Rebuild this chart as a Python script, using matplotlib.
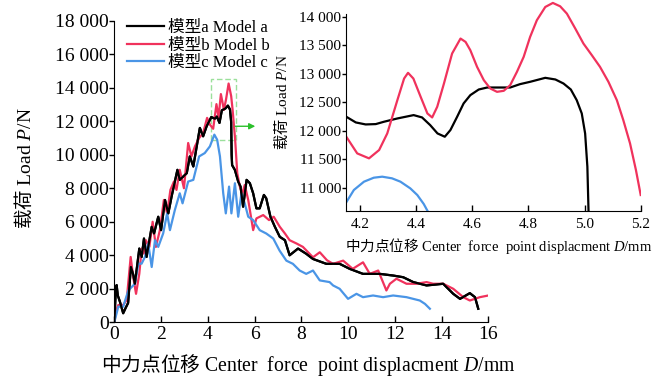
import matplotlib
matplotlib.use('Agg')
import matplotlib.pyplot as plt
from matplotlib.patches import Rectangle
from matplotlib.ticker import FuncFormatter

plt.rcParams['font.family'] = ['Liberation Serif', 'Noto Sans CJK SC']
plt.rcParams['mathtext.fontset'] = 'custom'
plt.rcParams['mathtext.rm'] = 'Noto Sans CJK SC'
plt.rcParams['mathtext.it'] = 'Liberation Serif:italic'
plt.rcParams['mathtext.bf'] = 'Liberation Serif:bold'

labels = ['模型a Model a', '模型b Model b', '模型c Model c']
colors = ['#000000', '#f0325c', '#4a95e6']

# main curves: displacement (mm) and load (N)
disp_a = [0, 0.05, 0.1, 0.15, 0.24, 0.38, 0.5, 0.59, 0.71, 0.8, 0.88, 1.07, 1.17, 1.27, 1.38,
          1.6, 1.7, 1.88, 2.0, 2.17, 2.31, 2.45, 2.7, 2.8, 3.1, 3.23, 3.38, 3.66, 3.8, 3.95,
          4.15, 4.3, 4.39, 4.5, 4.6, 4.75, 4.86, 4.95, 5.0, 5.02, 5.04, 5.16, 5.3, 5.4, 5.51,
          5.66, 5.8, 5.94, 6.08, 6.22, 6.4, 6.5, 6.68, 6.87, 7.08, 7.3, 7.5, 7.86, 8.2, 8.5,
          9.07, 9.64, 10.07, 10.64, 11.36, 11.93, 12.36, 12.79, 13.36, 14.07, 14.5, 14.79,
          15.21, 15.43, 15.57]
load_a = [0, 1500, 2220, 1600, 1230, 540, 900, 1150, 3300, 2900, 2300, 4400, 3900, 5000, 3900,
          5700, 5300, 6300, 5500, 7300, 6500, 7500, 9100, 8500, 8900, 9900, 9300, 11600, 11100, 11700,
          12250, 12150, 12280, 11900, 12650, 12760, 12930, 12700, 11950, 10000, 9380, 9090, 8400, 8100, 6900,
          8500, 8300, 7700, 6800, 6800, 7600, 7400, 6300, 5700, 5100, 4900, 4000, 4400, 4100, 3780,
          3490, 3490, 3190, 2890, 2890, 2790, 2690, 2400, 2200, 2300, 1700, 1400,
          1740, 1500, 810]

disp_b = [0, 0.08, 0.17, 0.38, 0.53, 0.7, 0.81, 0.93, 1.07, 1.17, 1.27, 1.35, 1.5, 1.64, 1.78,
          1.95, 2.12, 2.26, 2.4, 2.55, 2.66, 2.8, 2.98, 3.16, 3.3, 3.45, 3.63, 3.8, 3.97, 4.09,
          4.23, 4.37, 4.46, 4.56, 4.69, 4.78, 4.89, 5.0, 5.06, 5.17, 5.26, 5.37, 5.48, 5.58, 5.73,
          5.94, 6.08, 6.37, 6.62, 6.82, 7.08, 7.3, 7.5, 7.8, 8.07, 8.5, 8.79, 9.1, 9.36, 9.79,
          10.2, 10.64, 10.93, 11.29, 11.64, 11.79, 12.07, 12.5, 12.93, 13.36, 13.64, 14.07, 14.5,
          14.93, 15.21, 15.64, 16.0]
load_b = [0, 700, 1030, 1030, 1330, 3900, 2700, 1700, 2900, 4400, 4100, 4900, 4500, 6000, 4500,
          5500, 7300, 6500, 7900, 8400, 7900, 9100, 8000, 10700, 9900, 10500, 11000, 11300, 12200, 11800,
          11550, 13020, 12230, 13620, 12680, 13300, 14250, 13500, 12700, 10900, 8900, 8100, 7700, 8200, 7300,
          5500, 6200, 6400, 6100, 6300, 5700, 5300, 4900, 4700, 4500, 3880, 4180, 3700, 3490, 3680,
          3190, 3580, 2890, 3090, 1900, 2300, 2600, 2300, 2300, 2400, 2300, 2300, 2000,
          1500, 1300, 1500, 1600]

disp_c = [0, 0.17, 0.38, 0.6, 0.74, 0.88, 1.03, 1.17, 1.31, 1.45, 1.6, 1.74, 1.88, 2.09, 2.26,
          2.38, 2.59, 2.8, 2.92, 3.16, 3.38, 3.63, 3.87, 4.09, 4.28, 4.4, 4.52, 4.66, 4.77, 4.91,
          5.01, 5.16, 5.3, 5.44, 5.58, 5.73, 5.94, 6.22, 6.5, 6.8, 7.07, 7.36, 7.64, 7.93, 8.21,
          8.5, 8.79, 9.21, 9.36, 9.64, 10.0, 10.36, 10.64, 11.07, 11.5, 11.93, 12.5, 13.07, 13.29, 13.5]
load_c = [0, 930, 930, 1900, 2100, 2300, 3500, 3500, 3900, 4700, 3300, 4900, 4500, 5300, 6500,
          5500, 6700, 7700, 7100, 8400, 8500, 9900, 10100, 10500, 11200, 10900, 9900, 7700, 6500, 8100,
          6500, 8300, 6300, 7700, 7100, 6300, 6100, 5500, 5300, 5000, 4280, 3680, 3490, 3090, 2890,
          3090, 2500, 2400, 2200, 2000, 1400, 1700, 1500, 1600, 1500, 1600, 1500, 1300, 1100, 810]

# zoomed-in curves (inset)
ins_disp_a = [4.151, 4.185, 4.220, 4.256, 4.285, 4.333, 4.391, 4.421, 4.450, 4.476, 4.502, 4.522,
              4.546, 4.569, 4.593, 4.623, 4.653, 4.694, 4.735, 4.770, 4.806, 4.860, 4.896, 4.925,
              4.951, 4.972, 4.990, 5.002, 5.010, 5.014, 5.016]
ins_load_a = [12246, 12146, 12111, 12117, 12158, 12216, 12275, 12234, 12099, 11953, 11895, 12012,
              12246, 12480, 12626, 12725, 12760, 12760, 12760, 12819, 12860, 12930, 12901, 12830,
              12725, 12538, 12304, 11953, 11368, 10608, 10300]
ins_disp_b = [4.151, 4.190, 4.232, 4.268, 4.297, 4.333, 4.357, 4.371, 4.390, 4.416, 4.440, 4.457,
              4.475, 4.499, 4.528, 4.558, 4.576, 4.593, 4.617, 4.641, 4.664, 4.688, 4.712, 4.735,
              4.759, 4.783, 4.806, 4.830, 4.860, 4.887, 4.913, 4.937, 4.967, 4.996, 5.026, 5.055,
              5.085, 5.115, 5.138, 5.162, 5.183, 5.200]
ins_load_b = [11895, 11602, 11515, 11661, 11953, 12538, 12918, 13018, 12918, 12596, 12304, 12234,
              12421, 12830, 13357, 13620, 13561, 13415, 13123, 12889, 12743, 12684, 12702, 12801,
              13035, 13298, 13649, 13942, 14175, 14246, 14187, 14058, 13795, 13532, 13327, 13123,
              12860, 12538, 12187, 11778, 11310, 10871]
ins_disp_c = [4.151, 4.178, 4.214, 4.249, 4.279, 4.314, 4.344, 4.379, 4.404, 4.427, 4.445, 4.46]
ins_load_c = [10743, 10959, 11105, 11175, 11193, 11164, 11105, 10988, 10871, 10713, 10550, 10400]

xlabel = r'$\mathrm{中力点位移}$ Center  force  point displacment $D$/mm'
ylabel = r'$\mathrm{载荷}$ Load $P$/N'


def thousands(v, pos):
    return '{:,.0f}'.format(v).replace(',', ' ')


fig = plt.figure(figsize=(6.66, 3.79), dpi=100)

# ---- main axes ----
ax = fig.add_axes([114.3 / 666, 1 - 322.3 / 379, 374 / 666, 301.6 / 379])
for d, p, c, lab in zip([disp_a, disp_b, disp_c], [load_a, load_b, load_c], colors, labels):
    ax.plot(d, p, color=c, lw=1.6, label=lab)
ax.plot(disp_a, load_a, color=colors[0], lw=1.6)  # black drawn on top like the original

ax.set_xlim(0, 16)
ax.set_ylim(0, 18000)
ax.set_xticks(range(0, 17, 2))
ax.set_yticks(range(0, 18001, 2000))
ax.yaxis.set_major_formatter(FuncFormatter(thousands))
ax.spines['top'].set_visible(False)
ax.spines['right'].set_visible(False)
ax.tick_params(axis='x', direction='in', length=4, width=1, labelsize=14, pad=3)
ax.tick_params(axis='y', direction='out', length=3.5, width=1, labelsize=14, pad=0.5)

ax.set_xlabel(xlabel, fontsize=14.2)
ax.xaxis.set_label_coords(0.519, -0.1)
ax.set_ylabel(ylabel, fontsize=14)
ax.yaxis.set_label_coords(-0.212, 0.51)

# dashed box marking the zoomed region and arrow to the inset
ax.add_patch(Rectangle((4.15, 10900), 1.05, 3600, fill=False, ls=(0, (4, 2)),
                       ec='#9be09b', lw=1.0))
ax.annotate('', xy=(6.15, 11700), xytext=(5.05, 11700),
            arrowprops=dict(arrowstyle='-|>', color='#2cc02c', lw=1.0, mutation_scale=9))

ax.legend(loc='upper left', bbox_to_anchor=(127 / 666, 1 - 20 / 379),
          bbox_transform=fig.transFigure, frameon=False, fontsize=12,
          handlelength=2.2, handletextpad=0.25, labelspacing=0.1, borderpad=0,
          borderaxespad=0)

# ---- inset axes ----
ins = fig.add_axes([346 / 666, 1 - 211 / 379, 294.7 / 666, 210 / 379])
ins.plot(ins_disp_a, ins_load_a, color=colors[0], lw=1.6)
ins.plot(ins_disp_b, ins_load_b, color=colors[1], lw=1.6)
ins.plot(ins_disp_c, ins_load_c, color=colors[2], lw=1.6)
ins.set_xlim(4.15, 5.2)
ins.set_ylim(10590, 14280)
ins.set_xticks([4.2, 4.4, 4.6, 4.8, 5.0, 5.2])
ins.set_yticks(range(11000, 14001, 500))
ins.yaxis.set_major_formatter(FuncFormatter(thousands))
ins.spines['top'].set_visible(False)
ins.spines['right'].set_visible(False)
ins.spines['left'].set_bounds(10590, 14060)
ins.patch.set_alpha(0)
ins.tick_params(axis='x', direction='in', length=4, width=1, labelsize=11, pad=5)
ins.tick_params(axis='y', direction='out', length=3, width=1, labelsize=11, pad=0.5)
ins.set_xlabel(xlabel, fontsize=10.5)
ins.xaxis.set_label_coords(0.517, -0.119)
ins.set_ylabel(ylabel, fontsize=11)
ins.yaxis.set_label_coords(-0.19, 0.517)

fig.savefig('out.png', dpi=100)
